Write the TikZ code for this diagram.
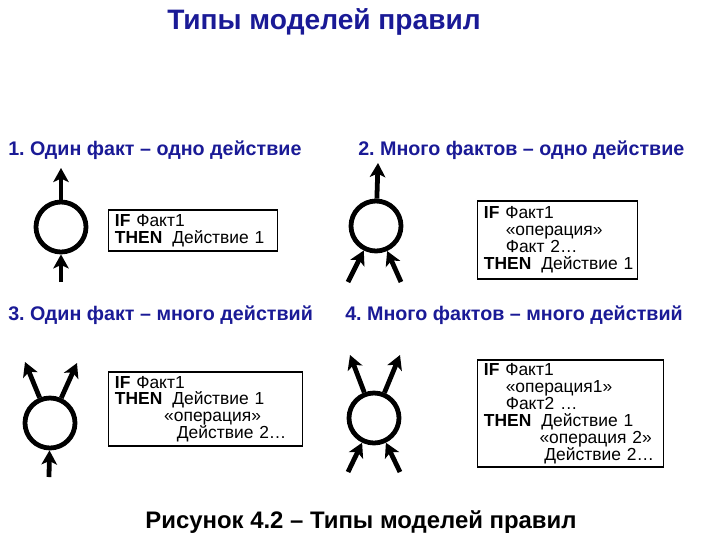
\documentclass[tikz,border=0pt]{standalone}
\usepackage{fontspec}
\setmainfont{Liberation Sans}
\usetikzlibrary{arrows.meta,positioning}
\definecolor{headblue}{HTML}{1A1A96}
\frenchspacing

\begin{document}
\begin{tikzpicture}[
    x=0.025cm, y=-0.025cm,
    heading/.style={anchor=west, inner sep=0pt, font=\fontsize{14}{16}\selectfont\bfseries, text=headblue},
    unit/.style={circle, draw, line width=3.4pt, minimum size=1.25cm, inner sep=0pt},
    flow/.style={line width=3.4pt, -{Stealth[length=10pt, width=11pt, inset=2.5pt]}},
    rulebox/.style={draw, line width=0.9pt, anchor=west, align=left, inner xsep=4.5pt, inner ysep=0pt,
                    font=\fontsize{12.4}{12}\selectfont}
]
\useasboundingbox (0,0) rectangle (720,540);

\node[inner sep=0pt, font=\fontsize{20}{22}\selectfont\bfseries, text=headblue] (title) at (324,22) {Типы моделей правил};

\node[heading] (head1) at (8,150)   {1. Один факт – одно действие};
\node[heading] (head2) at (358,150) {2. Много фактов – одно действие};
\node[heading] (head3) at (8,315)   {3. Один факт – много действий};
\node[heading] (head4) at (345,315) {4. Много фактов – много действий};

% 1
\node[unit] (unit1) at (61,227) {};
\coordinate (out1) at (61,168);
\coordinate (in1)  at (61,282);
\draw[flow] (unit1) -- (out1);
\draw[flow] (in1) -- (unit1);
\node[rulebox, text width=3.9cm, minimum height=1.025cm] (rule1) at (108,230.5)
    {\textbf{IF}~Факт1\\\textbf{THEN}\kern7pt Действие~1};

% 2
\node[unit] (unit2) at (376,226) {};
\coordinate (out2)  at (378,163);
\coordinate (in2a)  at (348,282);
\coordinate (in2b)  at (401,282);
\draw[flow] (unit2) -- (out2);
\draw[flow] (in2a) -- (unit2);
\draw[flow] (in2b) -- (unit2);
\node[rulebox, text width=3.68cm, minimum height=1.95cm] (rule2) at (477,240)
    {\textbf{IF}~Факт1\\\hspace*{15.5pt}«операция»\\\hspace*{15.5pt}Факт~2…\\\textbf{THEN}\kern7pt Действие~1};

% 3
\node[unit] (unit3) at (50,423) {};
\coordinate (out3a) at (25,362);
\coordinate (out3b) at (77,363);
\coordinate (in3)   at (49,477);
\draw[flow] (unit3) -- (out3a);
\draw[flow] (unit3) -- (out3b);
\draw[flow] (in3) -- (unit3);
\node[rulebox, text width=4.53cm, minimum height=1.85cm] (rule3) at (108,409)
    {\textbf{IF}~Факт1\\\textbf{THEN}\kern7pt Действие~1\\\hspace*{35pt}«операция»\\\hspace*{44pt}Действие~2…};

% 4
\node[unit] (unit4) at (374,418) {};
\coordinate (out4a) at (350,355);
\coordinate (out4b) at (400,355);
\coordinate (in4a)  at (348,472);
\coordinate (in4b)  at (400,472);
\draw[flow] (unit4) -- (out4a);
\draw[flow] (unit4) -- (out4b);
\draw[flow] (in4a) -- (unit4);
\draw[flow] (in4b) -- (unit4);
\node[rulebox, text width=4.33cm, minimum height=2.675cm] (rule4) at (477,413.5)
    {\textbf{IF}~Факт1\\\hspace*{15.5pt}«операция1»\\\hspace*{15.5pt}Факт2~…\\\textbf{THEN}\kern7pt Действие~1\\\hspace*{39.5pt}«операция~2»\\\hspace*{43pt}Действие~2…};

\node[inner sep=0pt, font=\fontsize{17}{19}\selectfont\bfseries] (caption) at (361,522) {Рисунок 4.2 – Типы моделей правил};
\end{tikzpicture}
\end{document}
